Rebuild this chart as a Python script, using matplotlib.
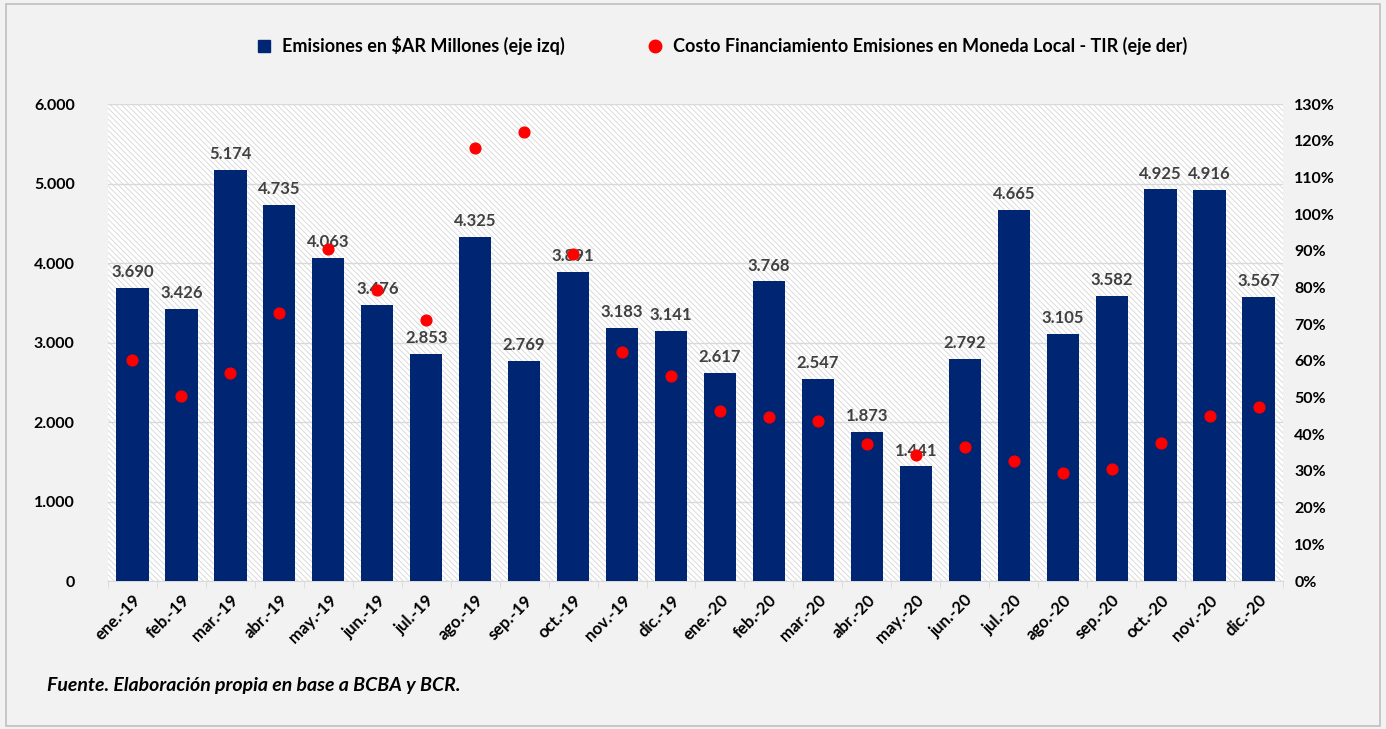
import matplotlib.pyplot as plt
import matplotlib.patches as mpatches
from matplotlib.lines import Line2D
from matplotlib.ticker import FuncFormatter, FixedLocator
import numpy as np

plt.rcParams['font.family'] = ['Lato', 'DejaVu Sans']
plt.rcParams['hatch.color'] = '#d6d6d6'
plt.rcParams['hatch.linewidth'] = 0.6

meses = ['ene.-19', 'feb.-19', 'mar.-19', 'abr.-19', 'may.-19', 'jun.-19',
         'jul.-19', 'ago.-19', 'sep.-19', 'oct.-19', 'nov.-19', 'dic.-19',
         'ene.-20', 'feb.-20', 'mar.-20', 'abr.-20', 'may.-20', 'jun.-20',
         'jul.-20', 'ago.-20', 'sep.-20', 'oct.-20', 'nov.-20', 'dic.-20']
emisiones = [3690, 3426, 5174, 4735, 4063, 3476, 2853, 4325, 2769, 3891, 3183, 3141,
             2617, 3768, 2547, 1873, 1441, 2792, 4665, 3105, 3582, 4925, 4916, 3567]
tir = [60.2, 50.4, 56.7, 73.0, 90.5, 79.3, 71.1, 118.0, 122.3, 89.1, 62.4, 55.9,
       46.3, 44.7, 43.6, 37.3, 34.3, 36.5, 32.7, 29.4, 30.5, 37.6, 45.0, 47.4]

bg = '#f2f2f2'
azul = '#002673'
fig = plt.figure(figsize=(13.86, 7.29), dpi=100, facecolor=bg)
ax = fig.add_axes([0.0779, 0.2030, 0.8478, 0.6543])
ax2 = ax.twinx()

# fondo rayado del area de trazado
ax.set_facecolor('white')
ax.add_patch(mpatches.Rectangle((0, 0), 1, 1, transform=ax.transAxes, facecolor='white',
                                edgecolor='#d6d6d6', hatch='\\\\\\\\\\\\', linewidth=0, zorder=0))

x = np.arange(len(meses))
ax.bar(x, emisiones, width=0.66, color=azul, zorder=3)
for xi, v in zip(x, emisiones):
    ax.text(xi, v + 100, f'{v:,}'.replace(',', '.'), ha='center', va='bottom',
            fontsize=12, fontweight='bold', color='#404040', zorder=4)

ax.set_ylim(0, 6000)
ax.set_xlim(-0.5, len(meses) - 0.5)
ax.set_yticks(np.arange(0, 6001, 1000))
ax.yaxis.set_major_formatter(FuncFormatter(lambda v, p: f'{int(v):,}'.replace(',', '.')))
ax.grid(axis='y', color='#d9d9d9', linewidth=1, zorder=1)
ax.set_axisbelow(True)
ax.set_xticks(x)
ax.set_xticklabels(meses, rotation=45, ha='right', rotation_mode='anchor',
                   fontsize=12, fontweight='bold')
ax.xaxis.set_minor_locator(FixedLocator(np.arange(-0.5, len(meses), 1)))
ax.tick_params(axis='x', which='major', length=0, pad=8)
ax.tick_params(axis='x', which='minor', length=5, color='#d9d9d9')
ax.tick_params(axis='y', length=0, labelsize=11.5, pad=24)
for lbl in ax.get_yticklabels():
    lbl.set_fontweight('bold')
for s in ['top', 'left', 'right']:
    ax.spines[s].set_visible(False)
ax.spines['bottom'].set_color('#d9d9d9')

ax2.scatter(x, tir, s=60, color='#ff0000', zorder=5)
ax2.set_ylim(0, 130)
ax2.set_yticks(np.arange(0, 131, 10))
ax2.yaxis.set_major_formatter(FuncFormatter(lambda v, p: f'{int(v)}%'))
ax2.tick_params(axis='y', length=0, labelsize=11.5, pad=8)
for lbl in ax2.get_yticklabels():
    lbl.set_fontweight('bold')
for s in ax2.spines.values():
    s.set_visible(False)

handles = [Line2D([], [], marker='s', linestyle='none', color=azul, markersize=8),
           Line2D([], [], marker='o', linestyle='none', color='#ff0000', markersize=9)]
fig.legend(handles, ['Emisiones en $AR Millones (eje izq)',
                     'Costo Financiamiento Emisiones en Moneda Local - TIR (eje der)'],
           loc='center', bbox_to_anchor=(0.517, 0.937), ncol=2, frameon=False,
           prop={'size': 13, 'weight': 'bold'}, handletextpad=0.0, columnspacing=4)

fig.text(0.034, 0.052, 'Fuente. Elaboración propia en base a BCBA y BCR.',
         fontsize=14, fontweight='bold', fontstyle='italic')

fig.add_artist(mpatches.Rectangle((0.004, 0.004), 0.992, 0.99, transform=fig.transFigure,
                                  fill=False, edgecolor='#bfbfbf', linewidth=1.2))

fig.savefig('out.png', dpi=100, facecolor=bg)
